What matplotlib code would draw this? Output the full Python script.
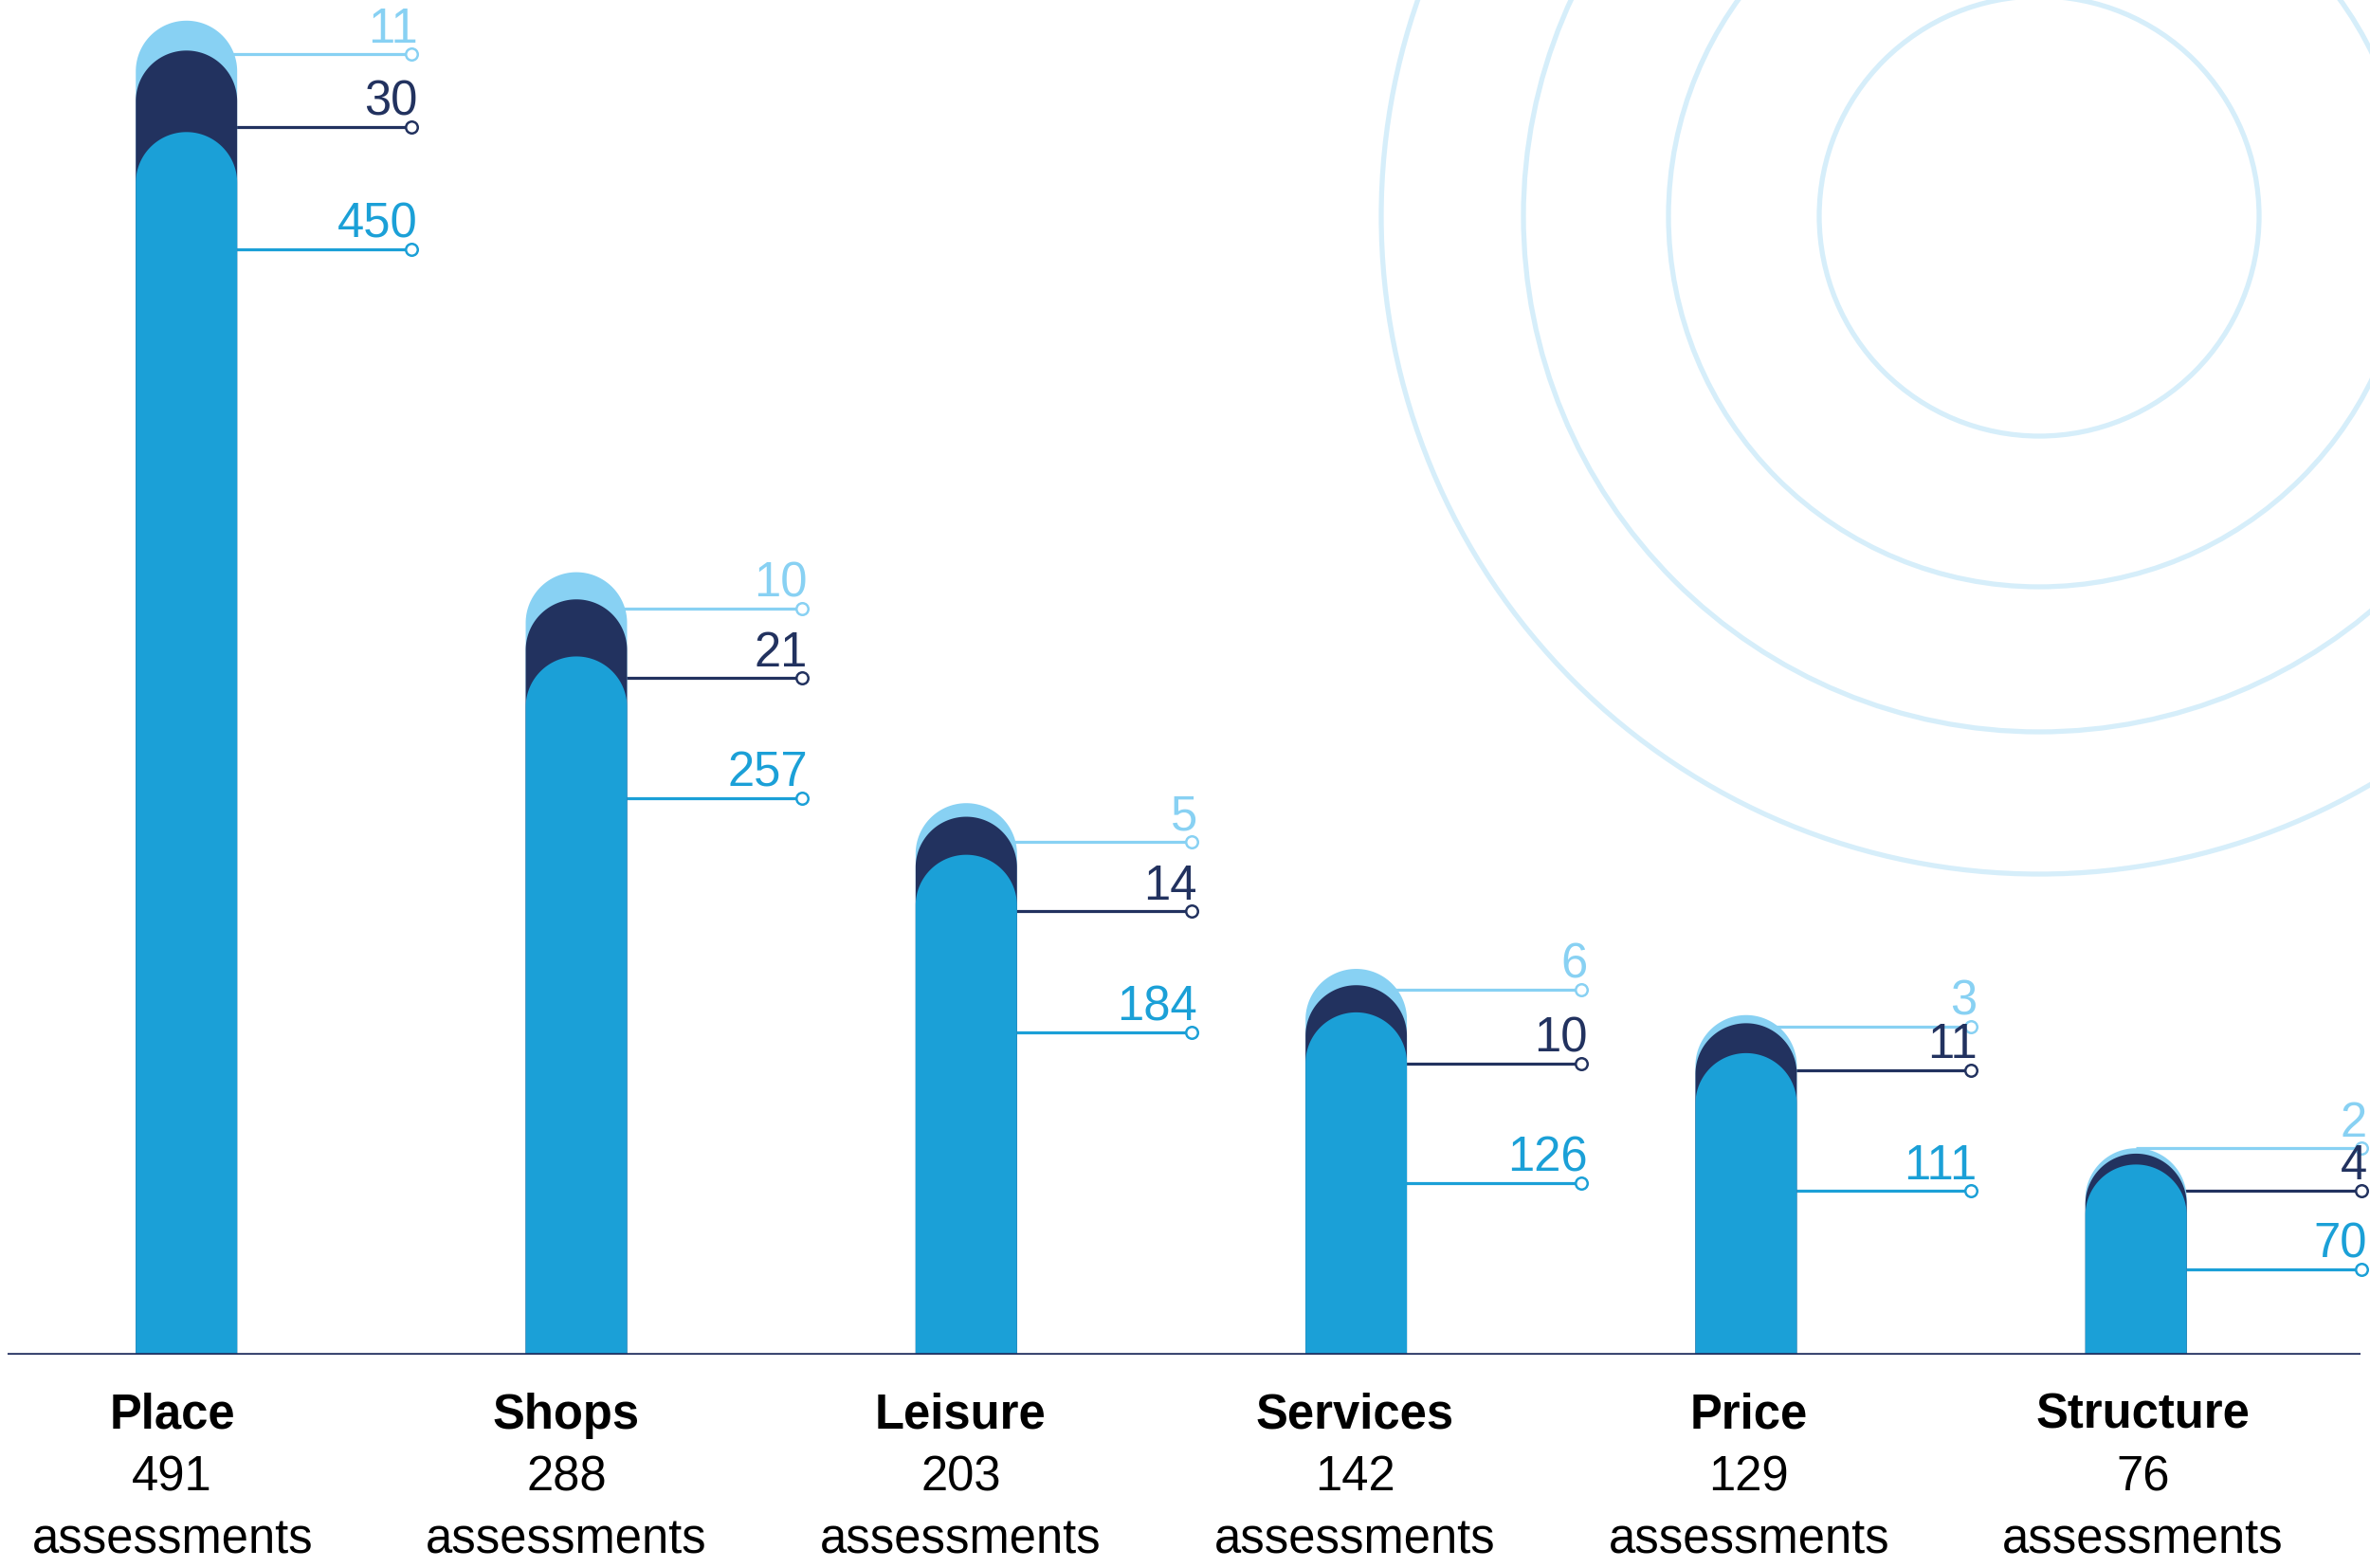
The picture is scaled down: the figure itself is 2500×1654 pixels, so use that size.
import numpy as np
import matplotlib
matplotlib.use("Agg")
import matplotlib.pyplot as plt
from matplotlib.patches import Polygon, Circle

plt.rcParams["font.family"] = ["Liberation Sans", "DejaVu Sans"]

# --- data ---
categories = ["Place", "Shops", "Leisure", "Services", "Price", "Structure"]
main_vals = [450, 257, 184, 126, 111, 70]     # mid blue
dark_vals = [30, 21, 14, 10, 11, 4]           # navy
light_vals = [11, 10, 5, 6, 3, 2]             # light blue
totals = [491, 288, 203, 142, 129, 76]

# --- layout: leader lines, units below total (hand-placed in original) ---
drop_light = [12.3, 13.4, 14.2, 7.8, 8.1, 0.0]
drop_dark = [39.0, 39.0, 39.8, 34.9, 24.3, 15.8]
drop_main = [84.1, 83.1, 84.3, 79.0, 68.8, 44.7]
LABEL_X0, LABEL_STEP = -0.0365, 1.0109   # labels sit on a slightly wider grid

C_MAIN = "#1BA0D7"
C_DARK = "#22325F"
C_LIGHT = "#88D1F3"
C_RING = "#D6EEFA"
C_BASE = "#22305F"

W, H, DPI = 25.0, 16.54, 100
fig = plt.figure(figsize=(W, H), dpi=DPI)

# decorative rings (figure pixel coords)
deco = fig.add_axes([0, 0, 1, 1], zorder=0)
deco.set_xlim(0, 2500); deco.set_ylim(1654, 0); deco.axis("off")
for r in [232, 391, 544, 694]:
    deco.add_patch(Circle((2151, 228), r, fill=False, ec=C_RING, lw=3.8))

ax_pos = [8 / 2500, 225 / 1654, 2482 / 2500, 1433 / 1654]
ax = fig.add_axes(ax_pos, zorder=1)
ax.patch.set_alpha(0)
XMIN, XMAX, YMAX = -0.4588, 5.5757, 500
ax.set_xlim(XMIN, XMAX); ax.set_ylim(0, YMAX)
ax.axis("off")

BW = 0.26
LEAD = 0.5775
px_x = ax_pos[2] * W * DPI / (XMAX - XMIN)
px_y = ax_pos[3] * H * DPI / YMAX
RX = BW / 2
RY = RX * px_x / px_y


def rounded_bar(x, h, color, z):
    a = np.linspace(np.pi, 0, 80)
    xs = np.concatenate([[x - RX], x + RX * np.cos(a), [x + RX]])
    ys = np.concatenate([[0], h - RY + RY * np.sin(a), [0]])
    ax.add_patch(Polygon(np.column_stack([xs, ys]), closed=True, fc=color, ec="none", zorder=z))


for i, cat in enumerate(categories):
    m, d, l = main_vals[i], dark_vals[i], light_vals[i]
    rounded_bar(i, m + d + l, C_LIGHT, 3)
    rounded_bar(i, m + d, C_DARK, 4)
    rounded_bar(i, m, C_MAIN, 5)

    tot = totals[i]
    for val, drop, col in [(l, drop_light[i], C_LIGHT), (d, drop_dark[i], C_DARK),
                           (m, drop_main[i], C_MAIN)]:
        yy = tot - drop
        ax.plot([i, i + LEAD], [yy, yy], color=col, lw=2.3, zorder=2,
                solid_capstyle="butt", clip_on=False)
        ax.plot(i + LEAD, yy, "o", ms=9, mfc="white", mec=col, mew=1.8, zorder=6,
                clip_on=False)
        ax.annotate(str(val), (i + LEAD, yy), xytext=(4.5, 9), textcoords="offset points",
                    ha="right", va="baseline", fontsize=36.5, color=col, zorder=7,
                    annotation_clip=False)

    lx = LABEL_X0 + LABEL_STEP * i
    ax.annotate(cat, (lx, 0), xytext=(0, -56), textcoords="offset points",
                ha="center", va="baseline", fontsize=36.5, fontweight="bold", color="black",
                annotation_clip=False)
    ax.annotate(str(tot), (lx, 0), xytext=(0, -103), textcoords="offset points",
                ha="center", va="baseline", fontsize=36.5, color="black",
                annotation_clip=False)
    ax.annotate("assessments", (lx, 0), xytext=(0, -151), textcoords="offset points",
                ha="center", va="baseline", fontsize=36.5, color="black",
                annotation_clip=False)

ax.axhline(0, color=C_BASE, lw=2.6, zorder=8)

fig.savefig("out.png", dpi=DPI)
